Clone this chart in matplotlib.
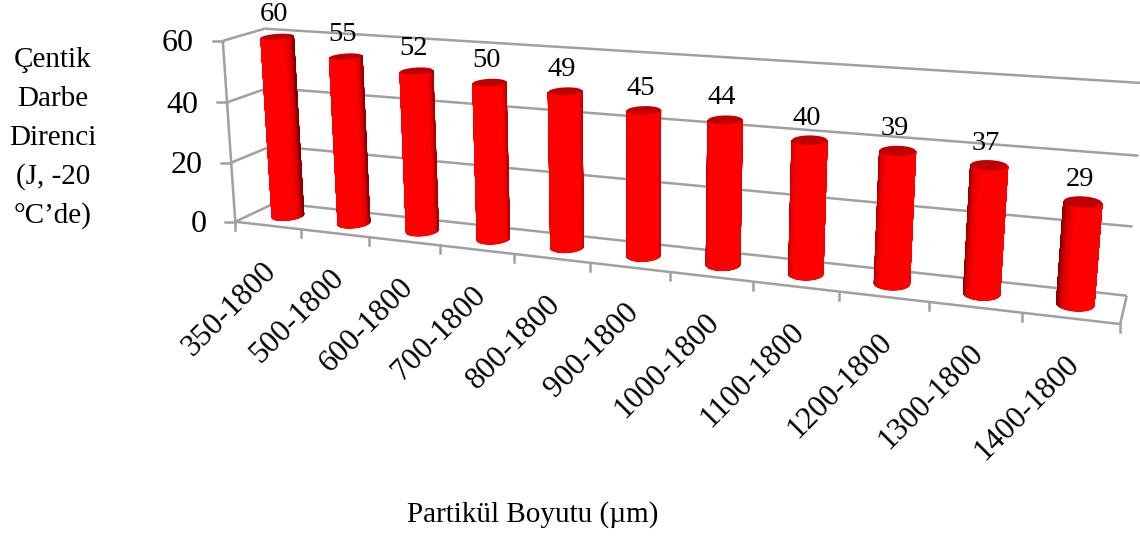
import numpy as np
import matplotlib
matplotlib.use('Agg')
import matplotlib.pyplot as plt
from matplotlib.colors import LinearSegmentedColormap

categories = ['350-1800', '500-1800', '600-1800', '700-1800', '800-1800', '900-1800',
              '1000-1800', '1100-1800', '1200-1800', '1300-1800', '1400-1800']
values = [60, 55, 52, 50, 49, 45, 44, 40, 39, 37, 29]
y_ticks = [0, 20, 40, 60]
y_title = ['Çentik', 'Darbe', 'Direnci', '(J, -20', '°C’de)']
x_title = 'Partikül Boyutu (µm)'

plt.rcParams['font.family'] = ['Liberation Serif', 'DejaVu Serif']

GREY = '#a0a0a0'
VMAX = 60.0
n = len(categories)

# camera: (category pos 0-1, depth 0-1, value 0-1) -> pixel, fitted to the box corners
calib_world = np.array([[0, 0, 0], [1, 0, 0], [0, 1, 0], [1, 1, 0], [0, 0, 1], [0, 1, 1],
                        [1, 1, 1/3], [1, 1, 2/3], [1/11, 0, 0], [10/11, 0, 0]])
calib_px = np.array([[237, 221], [1120, 325], [273, 204], [1127, 294], [220.5, 40.5], [267, 29],
                     [1133, 226], [1138, 156], [302, 228.6], [1022, 314]])
rows, rhs = [], []
for (X, Y, Z), (px, py) in zip(calib_world, calib_px):
    rows.append([X, Y, Z, 1, 0, 0, 0, 0, -px*X, -px*Y, -px*Z])
    rhs.append(px)
    rows.append([0, 0, 0, 0, X, Y, Z, 1, -py*X, -py*Y, -py*Z])
    rhs.append(py)
sol = np.linalg.lstsq(np.array(rows), np.array(rhs), rcond=None)[0]
P = np.append(sol, 1.0).reshape(3, 4)


def project(u, d, v):
    u, d, v = np.broadcast_arrays(u, d, v)
    pts = np.stack([u, d, v / VMAX, np.ones(u.shape)], axis=-1) @ P.T
    return pts[..., 0] / pts[..., 2], pts[..., 1] / pts[..., 2]


fig = plt.figure(figsize=(11.4, 5.38), dpi=100)
ax = fig.add_axes([0, 0, 1, 1])
ax.set_xlim(0, 1140)
ax.set_ylim(538, 0)
ax.axis('off')


def seg(p0, p1, lw=1.8):
    x, y = project(*np.array([p0, p1]).T)
    ax.plot(x, y, color=GREY, lw=lw, solid_capstyle='butt', zorder=1)
    return x, y


# walls and floor
for v in y_ticks:
    seg((0, 1, v), (1, 1, v))
    x, y = seg((0, 0, v), (0, 1, v))
    ax.plot([x[0] - 10, x[0]], [y[0], y[0]], color=GREY, lw=1.8, zorder=1)
    ax.text(x[0] - 29, y[0] + 3, str(v), fontsize=23, ha='right', va='center')
seg((0, 0, 0), (0, 0, VMAX))
seg((0, 0, 0), (1, 0, 0))
seg((1, 0, 0), (1, 1, 0))
for i in range(n + 1):
    x, y = project(i / n, 0, 0)
    ax.plot([x, x], [y, y + 8], color=GREY, lw=1.8, zorder=1)

# cylinders
R_U = 0.195 / n
R_D = 0.24
D_C = 0.5
t = np.linspace(0, 2 * np.pi, 361)[:-1]
shade = LinearSegmentedColormap.from_list(
    'shade', [(0, '#800000'), (0.375, '#dc0000'), (0.656, '#ff0000'), (1, '#ff0000')])
for i, val in enumerate(values):
    uc = (i + 0.5) / n
    cu = uc + R_U * np.cos(t)
    cd = D_C + R_D * np.sin(t)
    bx, by = project(cu, cd, 0)
    tx, ty = project(cu, cd, val)
    # visible front side runs between the left and right tangent points of the top circle
    a, b = np.argmin(tx), np.argmax(tx)
    idx = np.arange(a, b + 1) if a < b else np.r_[a:len(t), 0:b + 1]
    # the light drifts along the chart, so the far side darkens towards the right
    f = np.cos(t[idx] - 1.5 * np.pi - 1.0 * uc + 0.05)
    X = np.vstack([bx[idx], tx[idx]])
    Y = np.vstack([by[idx], ty[idx]])
    ax.fill(bx, by, color='#d00000', lw=0, zorder=3)
    ax.pcolormesh(X, Y, np.vstack([f, f]), shading='gouraud', cmap=shade, vmin=-0.6, vmax=1, zorder=3.5)
    ax.fill(tx, ty, color='#c00000', lw=0, zorder=4)
    lx, ly = project(uc, D_C, val)
    ax.text(lx - 3, ly - 22, str(val), fontsize=20.5, ha='center', va='center', zorder=5)
    fx, fy = project(uc, 0, 0)
    ax.text(fx - 6, fy + 31, categories[i], fontsize=22.5, rotation=45, ha='right', va='top',
            rotation_mode='anchor')

# axis titles
for k, line in enumerate(y_title):
    ax.text(53, 60 + k * 38.8, line, fontsize=21, ha='center', va='center')
ax.text(533, 515, x_title, fontsize=21, ha='center', va='center')

fig.savefig('out.png', dpi=100)
